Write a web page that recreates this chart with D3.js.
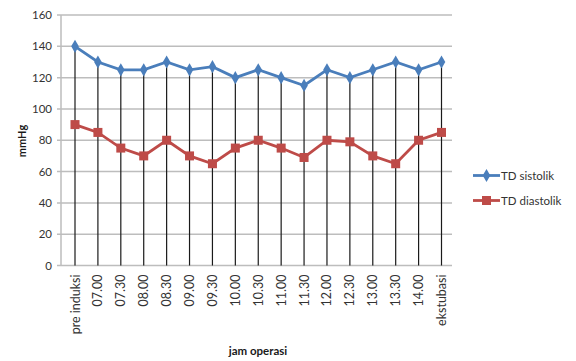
<!DOCTYPE html>
<html><head><meta charset="utf-8">
<script src="https://cdn.jsdelivr.net/npm/d3@7"></script>
<style>body{margin:0;background:#fff}svg{display:block}text{font-family:Lato,"Open Sans",sans-serif}</style>
</head><body><svg id="c" width="576" height="361"></svg>
<script>
const categories = ["pre induksi","07.00","07.30","08.00","08.30","09.00","09.30","10.00","10.30","11.00","11.30","12.00","12.30","13.00","13.30","14.00","ekstubasi"];
const sistolik = [140,130,125,125,130,125,127,120,125,120,115,125,120,125,130,125,130];
const diastolik = [90,85,75,70,80,70,65,75,80,75,69,80,79,70,65,80,85];
const yTicks = [0,20,40,60,80,100,120,140,160];
const seriesNames = ["TD sistolik","TD diastolik"];

const svg = d3.select("#c");
const pLeft = 61, pRight = 452, pTop = 15, pBottom = 265.5;
const x = d3.scalePoint().domain(categories).range([75, 441.5]);
const y = d3.scaleLinear().domain([0,160]).range([pBottom, pTop]);

// gridlines
svg.append("g").selectAll("line").data(yTicks).join("line")
  .attr("x1", pLeft-4).attr("x2", pRight).attr("y1", d=>y(d)).attr("y2", d=>y(d))
  .attr("stroke", "#bdbdbd").attr("stroke-width", 1.5);
// y axis line
svg.append("line").attr("x1", pLeft).attr("x2", pLeft).attr("y1", pTop).attr("y2", pBottom)
  .attr("stroke", "#bdbdbd").attr("stroke-width", 1.5);
// y tick labels
svg.append("g").selectAll("text").data(yTicks).join("text")
  .attr("x", 52).attr("y", d=>y(d)+4).attr("text-anchor","end")
  .attr("font-size", 11.5).attr("fill","#333").text(d=>d);

// drop lines
svg.append("g").selectAll("line").data(categories).join("line")
  .attr("x1", d=>x(d)).attr("x2", d=>x(d))
  .attr("y1", (d,i)=>y(sistolik[i])).attr("y2", pBottom)
  .attr("stroke", "#1a1a1a").attr("stroke-width", 1.2);

// x labels
svg.append("g").selectAll("text").data(categories).join("text")
  .attr("transform", d=>`translate(${x(d)+4.5},${pBottom+9}) rotate(-90)`)
  .attr("text-anchor","end").attr("font-size", 12.5).attr("fill","#333").text(d=>d);

const line = d3.line().x((d,i)=>x(categories[i])).y(d=>y(d));
const blue = "#4a7ebb", red = "#be4b48";
svg.append("path").datum(sistolik).attr("d", line).attr("fill","none").attr("stroke", blue).attr("stroke-width", 2.8);
svg.append("path").datum(diastolik).attr("d", line).attr("fill","none").attr("stroke", red).attr("stroke-width", 2.8);
const diamond = d3.symbol().type(d3.symbolDiamond).size(50);
svg.append("g").selectAll("path").data(sistolik).join("path")
  .attr("d", diamond).attr("transform",(d,i)=>`translate(${x(categories[i])},${y(d)})`).attr("fill", blue);
svg.append("g").selectAll("rect").data(diastolik).join("rect")
  .attr("x",(d,i)=>x(categories[i])-4.5).attr("y", d=>y(d)-4.5).attr("width",9).attr("height",9).attr("fill", red);

// axis titles
svg.append("text").attr("transform","translate(26,141) rotate(-90)").attr("text-anchor","middle")
  .attr("font-size", 11).attr("font-weight","bold").attr("fill","#1a1a1a").text("mmHg");
svg.append("text").attr("x", 258).attr("y", 355).attr("text-anchor","middle")
  .attr("font-size", 11.5).attr("font-weight","bold").attr("fill","#1a1a1a").text("jam operasi");

// legend
const lg = svg.append("g");
seriesNames.forEach((n,i)=>{
  const yy = 175.5 + i*25, c = i===0?blue:red;
  lg.append("line").attr("x1",473).attr("x2",500).attr("y1",yy).attr("y2",yy).attr("stroke",c).attr("stroke-width",2.8);
  if(i===0) lg.append("path").attr("d",diamond).attr("transform",`translate(486.5,${yy})`).attr("fill",c);
  else lg.append("rect").attr("x",482).attr("y",yy-4.5).attr("width",9).attr("height",9).attr("fill",c);
  lg.append("text").attr("x",501).attr("y",yy+4).attr("font-size",11.5).attr("fill","#333").text(n);
});
</script></body></html>
